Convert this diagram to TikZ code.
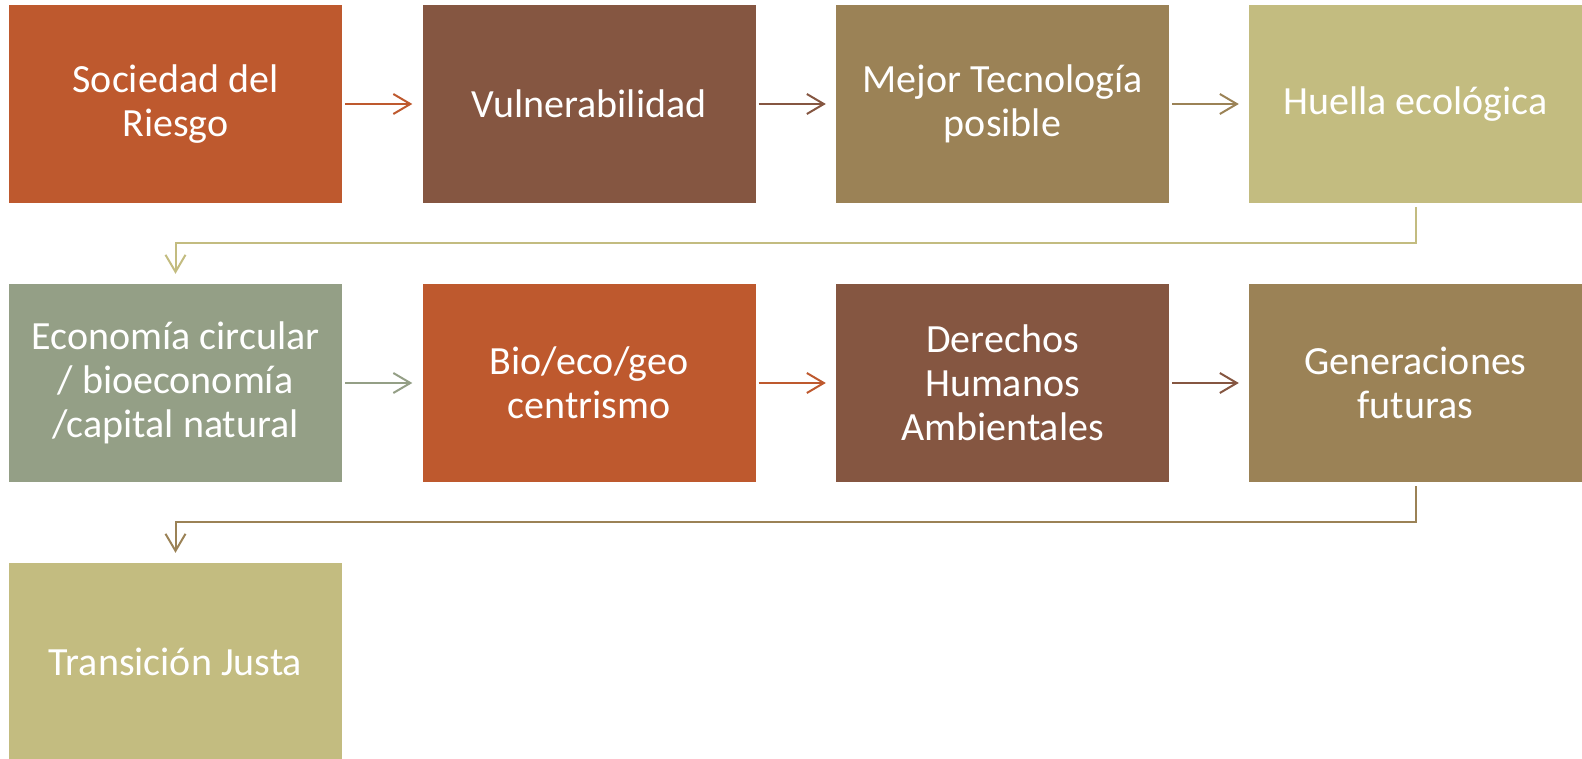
\documentclass[tikz,border=0pt]{standalone}
\usepackage{fontspec}
\setmainfont{Carlito}
\usetikzlibrary{arrows.meta}

\definecolor{naranja}{RGB}{190,89,46}
\definecolor{marron}{RGB}{133,86,65}
\definecolor{tostado}{RGB}{155,130,86}
\definecolor{caqui}{RGB}{195,188,128}
\definecolor{salvia}{RGB}{148,159,134}

\tikzset{
	caja/.style={fill=#1, draw=none, minimum width=333pt, minimum height=198pt,
		inner sep=0pt, align=center, text=white,
		font=\fontsize{40}{44}\selectfont},
	flecha/.style={draw=#1, line width=2pt, -{Straight Barb[length=17pt,width=20pt,line width=2pt]}},
}

\begin{document}
\begin{tikzpicture}[x=1pt,y=1pt]
	\useasboundingbox (0,0) rectangle (1582,-759);

		% first row
		\node[caja=naranja] (soc) at (175.5,-104) {Sociedad del\\Riesgo};
		\node[caja=marron] (vul) at (589,-104) {Vulnerabilidad};
		\node[caja=tostado] (tec) at (1002.5,-104) {Mejor Tecnología\\posible};
		\node[caja=caqui] (hue) at (1415.5,-104) {Huella ecológica};

		% second row
		\node[caja=salvia] (eco) at (175.5,-383) {Economía circular\\/ bioeconomía\\/capital natural};
		\node[caja=naranja] (bio) at (589,-383) {Bio/eco/geo\\centrismo};
		\node[caja=marron] (der) at (1002.5,-383) {Derechos\\Humanos\\Ambientales};
		\node[caja=tostado] (gen) at (1415.5,-383) {Generaciones\\futuras};

		% third row
		\node[caja=caqui] (tra) at (175.5,-662) {Transición Justa};

		% arrows
		\draw[flecha=naranja] ([xshift=3pt]soc.east) -- ([xshift=-10pt]vul.west);
		\draw[flecha=marron] ([xshift=3pt]vul.east) -- ([xshift=-10pt]tec.west);
		\draw[flecha=tostado] ([xshift=3pt]tec.east) -- ([xshift=-10pt]hue.west);
		\draw[flecha=salvia] ([xshift=3pt]eco.east) -- ([xshift=-10pt]bio.west);
		\draw[flecha=naranja] ([xshift=3pt]bio.east) -- ([xshift=-10pt]der.west);
		\draw[flecha=marron] ([xshift=3pt]der.east) -- ([xshift=-10pt]gen.west);

		% row changes
		\draw[flecha=caqui] ([yshift=-4pt]hue.south) -- ([yshift=-40pt]hue.south) -| ([yshift=10pt]eco.north);
		\draw[flecha=tostado] ([yshift=-4pt]gen.south) -- ([yshift=-40pt]gen.south) -| ([yshift=10pt]tra.north);

\end{tikzpicture}
\end{document}
